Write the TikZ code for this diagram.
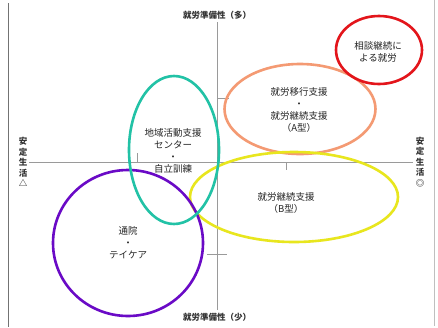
\documentclass[tikz,border=0pt]{standalone}
\usepackage{fontspec}
\setmainfont{Noto Sans CJK JP}
\usetikzlibrary{shapes.geometric}
\definecolor{cred}{HTML}{E3151B}
\definecolor{corange}{HTML}{F49A73}
\definecolor{cteal}{HTML}{22C2A6}
\definecolor{cyellow}{HTML}{E8E61E}
\definecolor{cpurple}{HTML}{6A0AC6}
\definecolor{caxis}{HTML}{9A9A9A}
\tikzset{
  oval/.style={ellipse, line width=2.6pt, inner sep=0pt},
  txt/.style={align=center, inner sep=0pt, font=\fontsize{9.5}{12}\selectfont, text=black!85},
  axlabel/.style={inner sep=0pt, font=\fontsize{8.5}{10}\selectfont\bfseries, text=black!80},
  vlabel/.style={inner sep=0pt, align=center, font=\fontsize{8.5}{10.5}\selectfont\bfseries, text=black!80},
  axisline/.style={draw=caxis, line width=0.8pt},
  frameline/.style={line width=1pt}
}
\begin{document}
\begin{tikzpicture}[x=1pt,y=-1pt]
\useasboundingbox[fill=white] (0,0) rectangle (438,327);
% frame
\coordinate (fl1) at (8,3); \coordinate (fl2) at (8,327);
\coordinate (fr1) at (434,0); \coordinate (fr2) at (434,326);
\draw[frameline, draw=black!55] (fl1) -- (fl2);
\draw[frameline, draw=black!25] (fr1) -- (fr2);
% axes
\node[axlabel] (top) at (217,15) {就労準備性（多）};
\node[axlabel] (bot) at (217,317) {就労準備性（少）};
\node[vlabel] (left) at (23,162) {安\\定\\生\\活\\△};
\node[vlabel] (right) at (420,162) {安\\定\\生\\活\\◎};
\coordinate (vt) at (217,22); \coordinate (vb) at (217,310);
\coordinate (hl) at (29,162); \coordinate (hr) at (413,162);
\draw[axisline] (vt) -- (vb);
\draw[axisline] (hl) -- (hr);
% ticks
\coordinate (t1a) at (217,98); \coordinate (t1b) at (229,98);
\coordinate (t2a) at (207,254); \coordinate (t2b) at (227,254);
\coordinate (t3a) at (137,153); \coordinate (t3b) at (137,162);
\coordinate (t4a) at (286,162); \coordinate (t4b) at (286,170);
\draw[axisline] (t1a) -- (t1b);
\draw[axisline] (t2a) -- (t2b);
\draw[axisline] (t3a) -- (t3b);
\draw[axisline] (t4a) -- (t4b);
% ellipses
\node[oval, draw=corange, minimum width=151pt, minimum height=90pt] (orange) at (300,109) {};
\node[oval, draw=cyellow, minimum width=208pt, minimum height=90pt] (yellow) at (294,197) {};
\node[oval, draw=cpurple, minimum width=150pt, minimum height=146pt] (purple) at (128,243) {};
\node[oval, draw=cteal, minimum width=90pt, minimum height=148pt] (teal) at (174,150) {};
\node[oval, draw=cred, minimum width=86pt, minimum height=68pt] (red) at (379,50) {};
% texts
\node[txt] (tred) at (378,51.5) {相談継続に\\よる就労};
\node[txt] (torange) at (299,109.5) {就労移行支援\\・\\就労継続支援\\（A型）};
\node[txt] (tteal) at (173,150.5) {地域活動支援\\センター\\・\\自立訓練};
\node[txt] (tyellow) at (286,203) {就労継続支援\\（B型）};
\node[txt] (tpurple) at (128,243) {通院\\・\\テイケア};
\end{tikzpicture}
\end{document}
